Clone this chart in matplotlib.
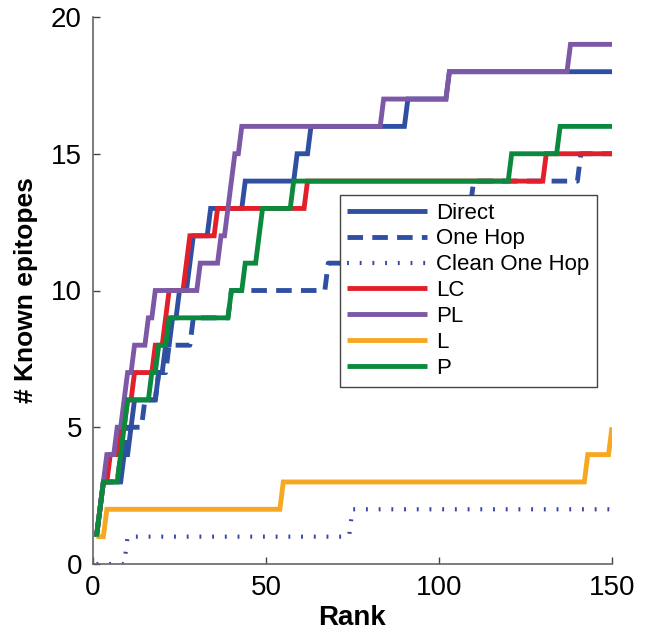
import numpy as np
import matplotlib
matplotlib.use('Agg')
import matplotlib.pyplot as plt

plt.rcParams['font.family'] = ['Liberation Sans', 'DejaVu Sans']

# ranks at which each method picks up another known epitope
ranks = np.arange(1, 151)
direct_hits = [1, 2, 3, 9, 11, 12, 19, 21, 23, 25, 28, 29, 34, 44, 59, 63, 91, 103]
onehop_hits = [1, 2, 3, 8, 10, 15, 19, 22, 29, 40, 68, 85, 100, 110, 141]
clean_hits = [10, 75]
lc_hits = [1, 2, 3, 5, 8, 10, 12, 18, 21, 22, 27, 28, 36, 62, 131]
pl_hits = [1, 2, 3, 4, 7, 9, 10, 12, 16, 18, 31, 37, 39, 40, 41, 43, 84, 103, 138]
l_hits = [1, 4, 55, 143, 150]
p_hits = [1, 2, 3, 8, 9, 10, 17, 19, 22, 40, 44, 48, 49, 58, 121, 135]

labels = ['Direct', 'One Hop', 'Clean One Hop', 'LC', 'PL', 'L', 'P']
colors = ['#2f4fa2', '#2f4fa2', '#3a46a0', '#e3202a', '#7d58a7', '#f7a823', '#0b8a3e']


def cumulative(hits):
    return np.searchsorted(np.sort(hits), ranks, side='right')


fig = plt.figure(figsize=(6.46, 6.36), dpi=100)
ax = fig.add_axes([93 / 646, 72 / 636, 519 / 646, 547 / 636])

all_hits = [direct_hits, onehop_hits, clean_hits, lc_hits, pl_hits, l_hits, p_hits]
styles = ['-', (0, (3.2, 1.9)), (0, (0.45, 2.6)), '-', '-', '-', '-']
widths = [3.5, 3.5, 3.0, 3.5, 3.5, 3.5, 3.5]

for hits, lab, col, ls, lw in zip(all_hits, labels, colors, styles, widths):
    ax.plot(ranks, cumulative(hits), color=col, linestyle=ls,
            linewidth=lw, label=lab, solid_capstyle='butt',
            dash_capstyle='butt', solid_joinstyle='miter')

ax.set_xlim(0, 150)
ax.set_ylim(0, 20)
ax.set_xticks([0, 50, 100, 150])
ax.set_yticks([0, 5, 10, 15, 20])
ax.tick_params(direction='in', length=5, width=1, color='#444444',
               labelsize=20, pad=8)
for side in ['top', 'right']:
    ax.spines[side].set_visible(False)
for side in ['left', 'bottom']:
    ax.spines[side].set_color('#666666')
    ax.spines[side].set_linewidth(1.2)

ax.set_xlabel('Rank', fontsize=20, fontweight='bold', labelpad=3)
ax.set_ylabel('# Known epitopes', fontsize=19, fontweight='bold', labelpad=9)

leg = ax.legend(loc='upper left', bbox_to_anchor=(0.475, 0.675),
                borderaxespad=0, fontsize=16, handlelength=3.6,
                handletextpad=0.4, labelspacing=0.22, fancybox=False,
                framealpha=1, edgecolor='#444444', borderpad=0.35)
leg.get_frame().set_linewidth(1.0)

plt.savefig('out.png', dpi=100)
